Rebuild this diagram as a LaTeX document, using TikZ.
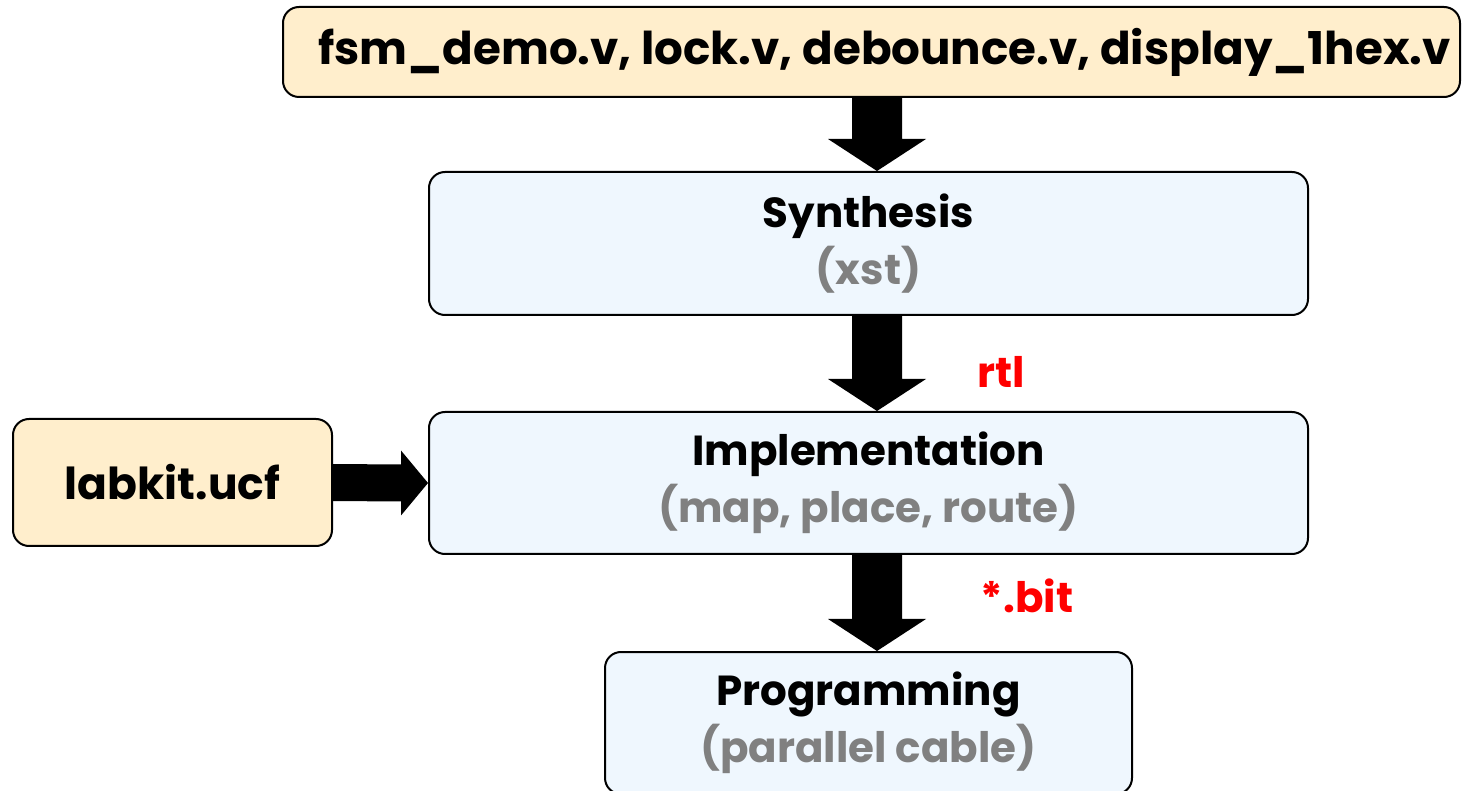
\documentclass[tikz,border=0pt]{standalone}
\usepackage{fontspec}
\setmainfont{Poppins}
\usetikzlibrary{calc}
\definecolor{filecream}{HTML}{FFEECC}
\definecolor{stepblue}{HTML}{EFF7FE}
\definecolor{notegray}{HTML}{808080}
\tikzset{
  box/.style={draw=black, line width=1pt, rounded corners=8pt, inner sep=0pt, align=center, font=\bfseries\fontsize{21}{27}\selectfont},
  filebox/.style={box, fill=filecream},
  stepbox/.style={box, fill=stepblue},
  tag/.style={text=red, font=\bfseries\fontsize{21}{25}\selectfont},
  blk/.style={fill=black}
}
% vertical block arrow from the bottom of #1 to the top of #2, centred on x = #3
\newcommand\blkdown[3]{%
  \fill[blk] ($(#1.south -| #3)+(-12.5pt,0)$) -- ($(#2.north -| #3)+(-12.5pt,16pt)$)
    -- ($(#2.north -| #3)+(-24.5pt,16pt)$) -- (#2.north -| #3)
    -- ($(#2.north -| #3)+(24.5pt,16pt)$) -- ($(#2.north -| #3)+(12.5pt,16pt)$)
    -- ($(#1.south -| #3)+(12.5pt,0)$) -- cycle;}
\begin{document}
\begin{tikzpicture}[x=0.5pt, y=-0.5pt]
  \useasboundingbox (0,0) rectangle (1464,791);
  \coordinate (ax) at (877,0);

  \node[filebox, minimum width=588.5pt, minimum height=45pt,
        font=\bfseries\fontsize{22.6}{27}\selectfont] (src) at (871.5,52)
    {\hspace*{13pt}fsm\_demo.v, lock.v, debounce.v, display\_1hex.v};
  \node[stepbox, minimum width=439.5pt, minimum height=71.5pt] (syn) at (868.5,243.5)
    {\raisebox{-2pt}{Synthesis}\\[3.5pt]{\color{notegray}(xst)}};
  \node[stepbox, minimum width=439.5pt, minimum height=71pt] (imp) at (868.5,483)
    {\raisebox{-2pt}{Implementation}\\[3.5pt]{\color{notegray}(map, place, route)}};
  \node[stepbox, minimum width=263.5pt, minimum height=71pt] (prog) at (868.5,723)
    {\raisebox{-2pt}{Programming}\\[3.5pt]{\color{notegray}(parallel cable)}};
  \node[filebox, minimum width=159.5pt, minimum height=63.5pt,
        font=\bfseries\fontsize{22}{27}\selectfont] (ucf) at (172.5,482.5)
    {labkit.ucf};

  \blkdown{src}{syn}{ax}
  \blkdown{syn}{imp}{ax}
  \blkdown{imp}{prog}{ax}

  \fill[blk] ($(ucf.east)+(0,9.25pt)$) -- ($(imp.west)+(-13.5pt,9.25pt)$)
    -- ($(imp.west)+(-13.5pt,16.25pt)$) -- (imp.west)
    -- ($(imp.west)+(-13.5pt,-16.25pt)$) -- ($(imp.west)+(-13.5pt,-9.25pt)$)
    -- ($(ucf.east)+(0,-9.25pt)$) -- cycle;

  \node[tag] (rtl) at (1001,372) {rtl};
  \node[tag] (bit) at (1027,596) {*.bit};
\end{tikzpicture}
\end{document}
